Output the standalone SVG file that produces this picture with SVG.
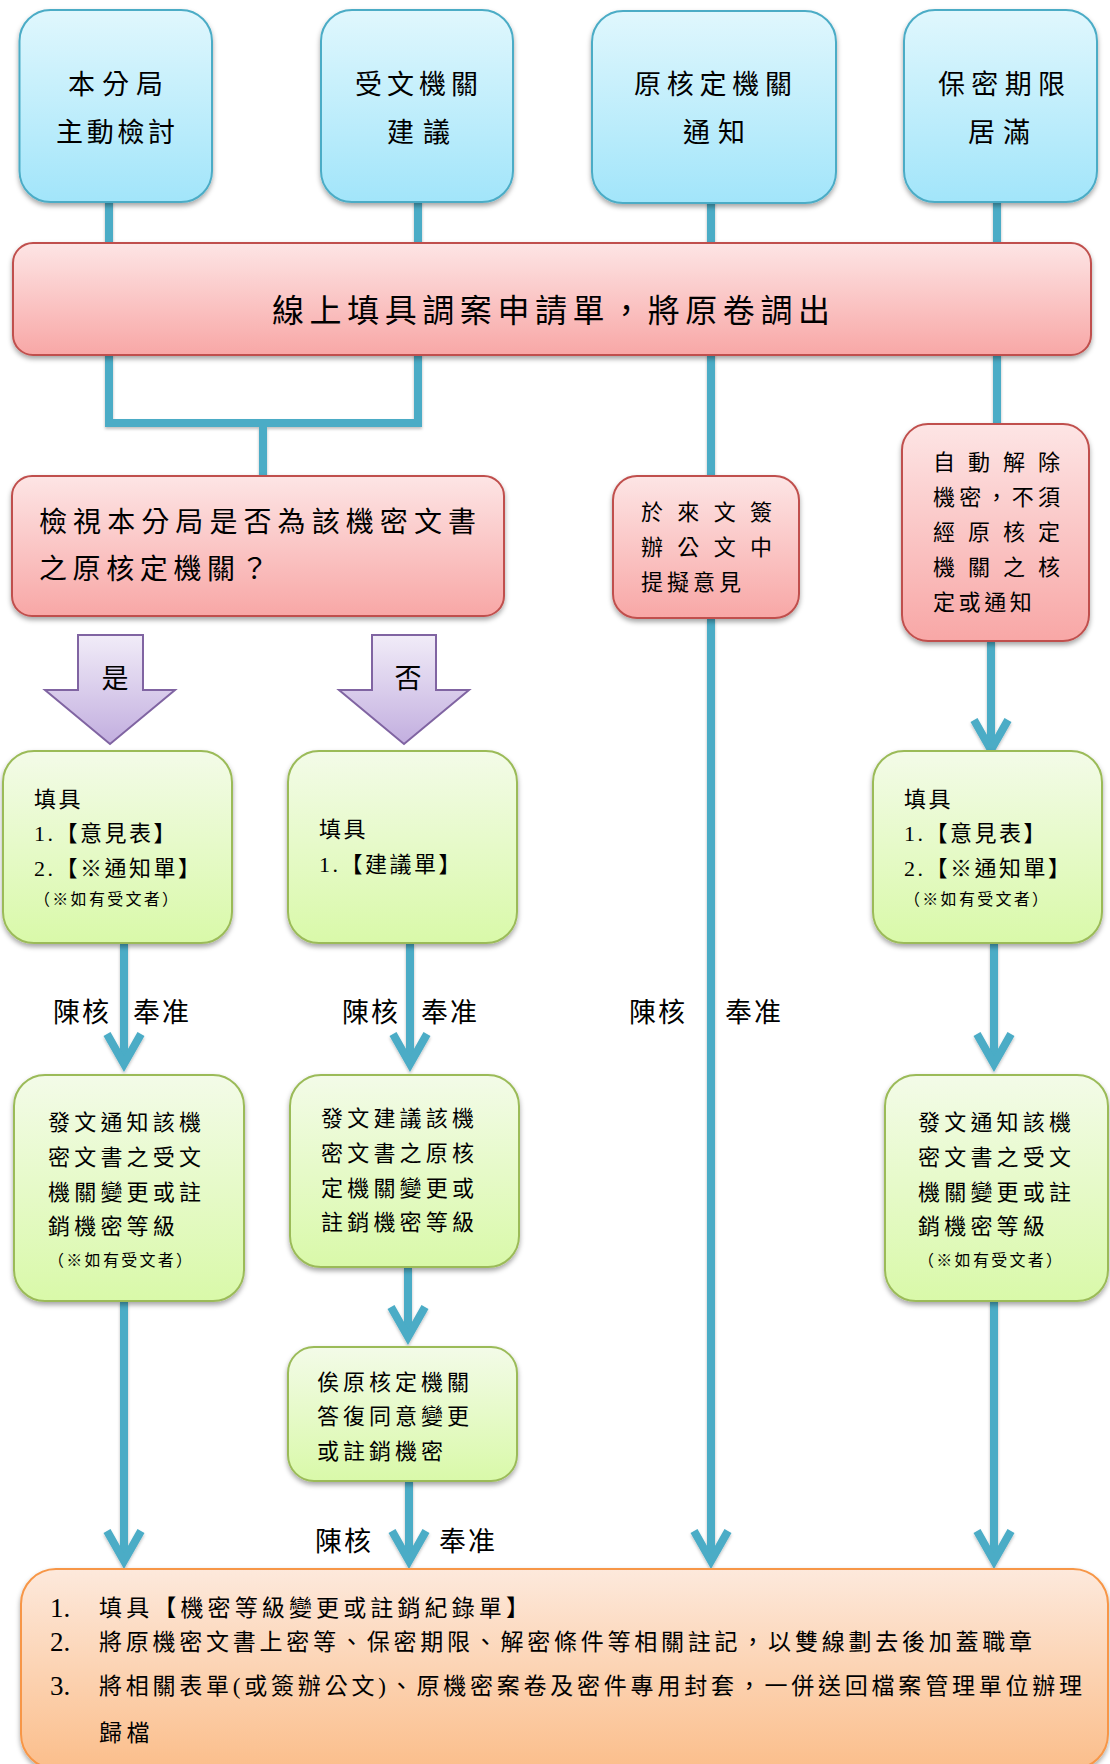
<svg xmlns="http://www.w3.org/2000/svg" width="1110" height="1764" viewBox="0 0 1110 1764">
<defs>
<linearGradient id="gBlue" x1="0" y1="0" x2="0" y2="1"><stop offset="0" stop-color="#e0f7fd"/><stop offset="1" stop-color="#a2e5fa"/></linearGradient>
<linearGradient id="gRed" x1="0" y1="0" x2="0" y2="1"><stop offset="0" stop-color="#fde5e5"/><stop offset="1" stop-color="#f8a7a6"/></linearGradient>
<linearGradient id="gGreen" x1="0" y1="0" x2="0" y2="1"><stop offset="0" stop-color="#f3fbe8"/><stop offset="1" stop-color="#d9f9a9"/></linearGradient>
<linearGradient id="gOrange" x1="0" y1="0" x2="0" y2="1"><stop offset="0" stop-color="#fde9dc"/><stop offset="1" stop-color="#fbbe8b"/></linearGradient>
<linearGradient id="gPurple" x1="0" y1="0" x2="0" y2="1"><stop offset="0" stop-color="#f1ecf8"/><stop offset="1" stop-color="#c2aedf"/></linearGradient>
<filter id="sh" x="-10%" y="-10%" width="120%" height="130%"><feDropShadow dx="0" dy="3" stdDeviation="2.5" flood-color="#000" flood-opacity="0.35"/></filter>
<filter id="shl" x="-50%" y="-5%" width="200%" height="110%"><feDropShadow dx="0" dy="2" stdDeviation="1.5" flood-color="#000" flood-opacity="0.25"/></filter>
<marker id="arr" markerUnits="userSpaceOnUse" viewBox="-45 -30 60 60" markerWidth="60" markerHeight="60" refX="0" refY="0" orient="auto" overflow="visible">
<path d="M-30,-17 L0,0 L-30,17" fill="none" stroke="#4bacc6" stroke-width="8" stroke-linejoin="miter"/>
</marker>
<style>
.t{font-family:"Liberation Serif","Noto Sans CJK TC",serif;fill:#000;}
.f27{font-size:27px;}
.f32{font-size:32px;}
.f28{font-size:28px;}
.f22{font-size:22px;}
.f16{font-size:16px;letter-spacing:2.3px;}
.f23{font-size:23px;}
.num{font-size:27px;}
.blue{fill:url(#gBlue);stroke:#4bacc6;stroke-width:2;filter:url(#sh);}
.red{fill:url(#gRed);stroke:#c0504d;stroke-width:2;filter:url(#sh);}
.green{fill:url(#gGreen);stroke:#9bbb59;stroke-width:2;filter:url(#sh);}
.orange{fill:url(#gOrange);stroke:#f79646;stroke-width:2;filter:url(#sh);}
.purple{fill:url(#gPurple);stroke:#8064a2;stroke-width:2;}
.c{fill:none;stroke:#4bacc6;stroke-width:8;}
.ca{fill:none;stroke:#4bacc6;stroke-width:8;marker-end:url(#arr);}
</style>
</defs>
<rect width="1110" height="1764" fill="#fff"/>

<g id="connectors" filter="url(#shl)">
<line class="c" x1="109" y1="200" x2="109" y2="245"/>
<line class="c" x1="418" y1="200" x2="418" y2="245"/>
<line class="c" x1="711" y1="200" x2="711" y2="245"/>
<line class="c" x1="997" y1="200" x2="997" y2="245"/>
<polyline class="c" points="109,353 109,423 418,423 418,353"/>
<line class="c" x1="263" y1="423" x2="263" y2="477"/>
<line class="c" x1="711" y1="353" x2="711" y2="477"/>
<line class="c" x1="997" y1="353" x2="997" y2="425"/>
<line class="ca" x1="991" y1="641" x2="991" y2="750"/>
<line class="ca" x1="124" y1="943" x2="124" y2="1064"/>
<line class="ca" x1="410" y1="943" x2="410" y2="1064"/>
<line class="ca" x1="994" y1="943" x2="994" y2="1064"/>
<line class="ca" x1="408" y1="1267" x2="408" y2="1337"/>
<line class="ca" x1="124" y1="1301" x2="124" y2="1561"/>
<line class="ca" x1="409" y1="1481" x2="409" y2="1561"/>
<line class="ca" x1="711" y1="618" x2="711" y2="1561"/>
<line class="ca" x1="994" y1="1301" x2="994" y2="1561"/>
</g>

<g id="n-src1">
<rect class="blue" x="19.5" y="10" width="192.5" height="192" rx="31"/>
<text class="t f27" x="68" y="94" textLength="95">本分局</text>
<text class="t f27" x="56" y="142" textLength="119">主動檢討</text>
</g>
<g id="n-src2">
<rect class="blue" x="321" y="10" width="192" height="192" rx="31"/>
<text class="t f27" x="355" y="94" textLength="123">受文機關</text>
<text class="t f27" x="387" y="142" textLength="63">建議</text>
</g>
<g id="n-src3">
<rect class="blue" x="592" y="11" width="244" height="192" rx="31"/>
<text class="t f27" x="634" y="94" textLength="158">原核定機關</text>
<text class="t f27" x="683" y="142" textLength="62">通知</text>
</g>
<g id="n-src4">
<rect class="blue" x="904" y="10" width="193" height="192" rx="31"/>
<text class="t f27" x="938" y="94" textLength="127">保密期限</text>
<text class="t f27" x="968" y="142" textLength="62">居滿</text>
</g>

<g id="n-apply">
<rect class="red" x="13" y="243" width="1078" height="112" rx="20"/>
<text class="t f32" x="272" y="322" textLength="558">線上填具調案申請單，將原卷調出</text>
</g>

<g id="n-check">
<rect class="red" x="12" y="476" width="492" height="140" rx="20"/>
<text class="t f28" x="39" y="532" textLength="437">檢視本分局是否為該機密文書</text>
<text class="t f28" x="39" y="579" style="letter-spacing:5.6px">之原核定機關？</text>
</g>

<g id="n-opinion">
<rect class="red" x="613" y="476" width="186" height="142" rx="24"/>
<text class="t f22" x="641" y="520" textLength="131">於來文簽</text>
<text class="t f22" x="641" y="555" textLength="131">辦公文中</text>
<text class="t f22" x="641" y="590" style="letter-spacing:4px">提擬意見</text>
</g>

<g id="n-auto">
<rect class="red" x="902" y="424" width="187" height="217" rx="26"/>
<text class="t f22" x="933" y="470" textLength="127">自動解除</text>
<text class="t f22" x="933" y="505" textLength="127">機密，不須</text>
<text class="t f22" x="933" y="540" textLength="127">經原核定</text>
<text class="t f22" x="933" y="575" textLength="127">機關之核</text>
<text class="t f22" x="933" y="610" style="letter-spacing:3.6px">定或通知</text>
</g>

<g id="n-yes">
<path class="purple" d="M78,635 H143 V690 H175 L110,744 L45,690 H78 Z"/>
<text class="t f27" x="115" y="688" text-anchor="middle">是</text>
</g>
<g id="n-no">
<path class="purple" d="M372,635 H436 V690 H469 L404,744 L339,690 H372 Z"/>
<text class="t f27" x="408" y="688" text-anchor="middle">否</text>
</g>

<g id="n-form1" style="letter-spacing:2.5px">
<rect class="green" x="3" y="751" width="229" height="192" rx="31"/>
<text class="t f22" x="34" y="807">填具</text>
<text class="t f22" x="34" y="841">1.【意見表】</text>
<text class="t f22" x="34" y="876">2.【※通知單】</text>
<text class="t f16" x="34" y="905">（※如有受文者）</text>
</g>
<g id="n-form2" style="letter-spacing:2.5px">
<rect class="green" x="288" y="751" width="229" height="192" rx="31"/>
<text class="t f22" x="319" y="837">填具</text>
<text class="t f22" x="319" y="872">1.【建議單】</text>
</g>
<g id="n-form3" style="letter-spacing:2.5px">
<rect class="green" x="873" y="751" width="229" height="192" rx="31"/>
<text class="t f22" x="904" y="807">填具</text>
<text class="t f22" x="904" y="841">1.【意見表】</text>
<text class="t f22" x="904" y="876">2.【※通知單】</text>
<text class="t f16" x="904" y="905">（※如有受文者）</text>
</g>

<g id="n-notify1" style="letter-spacing:4.2px">
<rect class="green" x="14" y="1075" width="230" height="226" rx="31"/>
<text class="t f22" x="48" y="1130">發文通知該機</text>
<text class="t f22" x="48" y="1165">密文書之受文</text>
<text class="t f22" x="48" y="1200">機關變更或註</text>
<text class="t f22" x="48" y="1234">銷機密等級</text>
<text class="t f16" x="48" y="1266">（※如有受文者）</text>
</g>
<g id="n-suggest" style="letter-spacing:4.2px">
<rect class="green" x="290" y="1075" width="229" height="192" rx="31"/>
<text class="t f22" x="321" y="1126">發文建議該機</text>
<text class="t f22" x="321" y="1161">密文書之原核</text>
<text class="t f22" x="321" y="1196">定機關變更或</text>
<text class="t f22" x="321" y="1230">註銷機密等級</text>
</g>
<g id="n-wait" style="letter-spacing:4px">
<rect class="green" x="288" y="1347" width="229" height="134" rx="26"/>
<text class="t f22" x="317" y="1390">俟原核定機關</text>
<text class="t f22" x="317" y="1424">答復同意變更</text>
<text class="t f22" x="317" y="1459">或註銷機密</text>
</g>
<g id="n-notify2" style="letter-spacing:4.2px">
<rect class="green" x="885" y="1075" width="223" height="226" rx="31"/>
<text class="t f22" x="918" y="1130">發文通知該機</text>
<text class="t f22" x="918" y="1165">密文書之受文</text>
<text class="t f22" x="918" y="1200">機關變更或註</text>
<text class="t f22" x="918" y="1234">銷機密等級</text>
<text class="t f16" x="918" y="1266">（※如有受文者）</text>
</g>

<g id="labels" style="letter-spacing:2px">
<text class="t f27" x="53" y="1022">陳核</text>
<text class="t f27" x="133" y="1022">奉准</text>
<text class="t f27" x="342" y="1022">陳核</text>
<text class="t f27" x="421" y="1022">奉准</text>
<text class="t f27" x="629" y="1022">陳核</text>
<text class="t f27" x="725" y="1022">奉准</text>
<text class="t f27" x="315" y="1551">陳核</text>
<text class="t f27" x="439" y="1551">奉准</text>
</g>

<g id="n-final">
<rect class="orange" x="21" y="1569" width="1087" height="200" rx="35"/>
<text class="t num" x="50" y="1617">1.</text>
<text class="t num" x="50" y="1651">2.</text>
<text class="t num" x="50" y="1695">3.</text>
<text class="t f23" x="99" y="1616" textLength="430">填具【機密等級變更或註銷紀錄單】</text>
<text class="t f23" x="99" y="1650" textLength="933">將原機密文書上密等、保密期限、解密條件等相關註記，以雙線劃去後加蓋職章</text>
<text class="t f23" x="99" y="1694" textLength="983">將相關表單(或簽辦公文)、原機密案卷及密件專用封套，一併送回檔案管理單位辦理</text>
<text class="t f23" x="99" y="1741" style="letter-spacing:4.4px">歸檔</text>
</g>
</svg>
